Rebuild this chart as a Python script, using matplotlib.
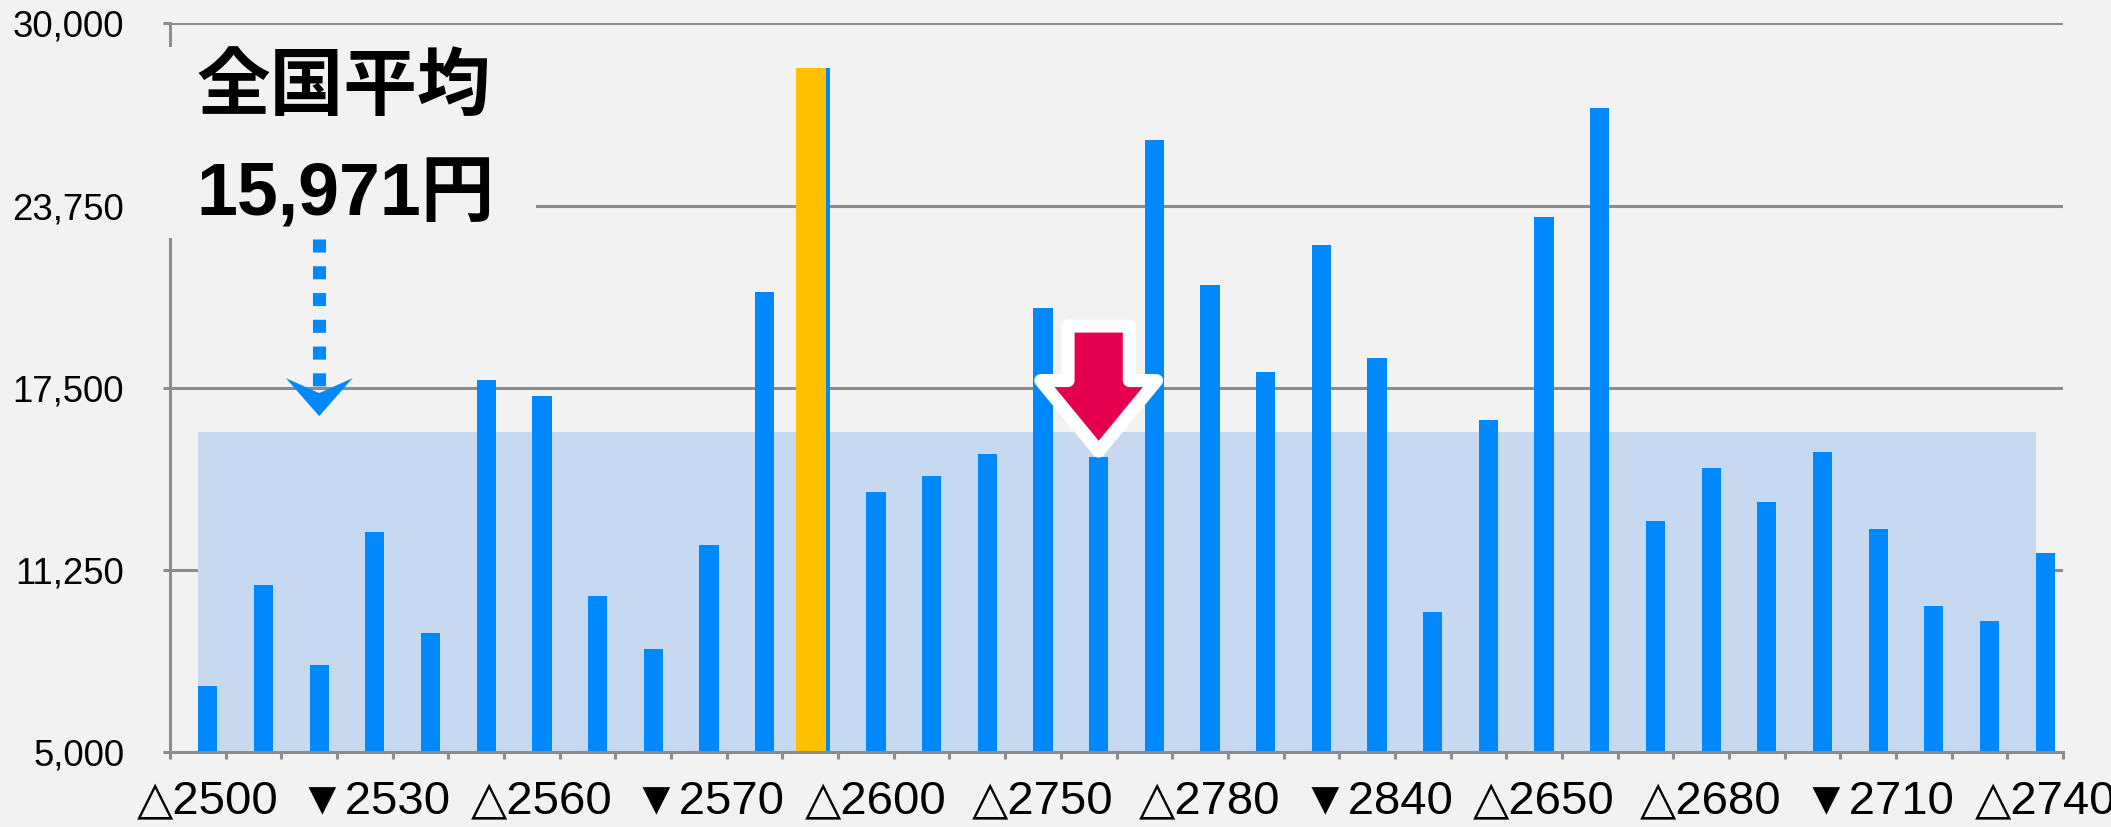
import numpy as np
import matplotlib
matplotlib.use('Agg')
import matplotlib.pyplot as plt
from matplotlib.patches import Polygon, Rectangle

plt.rcParams['font.family'] = ['Liberation Sans', 'DejaVu Sans']

# bar values (one per category, 34 in total)
values = [7250, 10720, 7980, 12540, 9080, 17760, 17210, 10350, 8530, 12100,
          20780, 28470, 13920, 14470, 15220, 20230, 15120, 26000, 21010, 18050,
          22400, 18520, 9820, 16390, 23370, 27100, 12920, 14750, 13570, 15290,
          12650, 10000, 9510, 11830]
# only every third category gets a label
tick_labels = ['△2500', '▼2530', '△2560', '▼2570', '△2600', '△2750',
               '△2780', '▼2840', '△2650', '△2680', '▼2710', '△2740']
highlight_idx = 11
pointer_idx = 16
avg_idx = 2
national_avg = 15971
yticks = [5000, 11250, 17500, 23750, 30000]

BG = '#f2f2f2'
BLUE = '#0088ff'
ORANGE = '#ffc000'
BAND = '#c6d9f0'
GRID = '#8c8c8c'
RED = '#e5004f'

W, H, DPI = 2111, 827, 100


def main():
    fig = plt.figure(figsize=(W / DPI, H / DPI), dpi=DPI, facecolor=BG)
    ax = fig.add_axes([170 / W, 75 / H, (2063 - 170) / W, 728.5 / H])
    ax.set_facecolor(BG)

    x = np.arange(len(values))
    pos = x + 0.68
    bw = 0.345

    ax.bar(pos, values, width=bw, color=BLUE, zorder=2.2)
    ax.bar(highlight_idx + 0.51, values[highlight_idx], width=0.545,
           color=ORANGE, zorder=2.3)

    # national average band
    ax.fill_between([pos[0] - bw / 2, pos[-1] - bw / 2], yticks[0], national_avg,
                    color=BAND, lw=0, zorder=2.1)

    ax.set_xlim(0, len(values))
    ax.set_ylim(yticks[0], yticks[-1])
    ax.set_yticks(yticks)
    ax.set_yticklabels([f'{v:,}' for v in yticks])
    ax.set_axisbelow(True)
    ax.yaxis.grid(True, color=GRID, lw=2.2)
    ax.tick_params(axis='y', direction='out', length=5, width=2.2,
                   color=GRID, labelsize=26.3, pad=28)

    ax.set_xticks(pos[::3])
    ax.set_xticklabels(tick_labels)
    ax.set_xticks(np.arange(0, len(values) + 1), minor=True)
    ax.tick_params(axis='x', which='major', length=0, labelsize=34, pad=20)
    ax.tick_params(axis='x', which='minor', direction='out', length=5,
                   width=2.2, color=GRID)

    for s in ['top', 'right']:
        ax.spines[s].set_visible(False)
    for s in ['left', 'bottom']:
        ax.spines[s].set_color(GRID)
        ax.spines[s].set_linewidth(2.2)

    # dotted arrow down to the average band
    xc = pos[avg_idx]
    notch = national_avg + 1345
    ax.plot([xc, xc], [22600, notch], color=BLUE, lw=9.4,
            linestyle=(0, (1, 1.05)), zorder=3, clip_on=False)
    head = [(xc - 0.6, national_avg + 1860), (xc, national_avg + 555),
            (xc + 0.6, national_avg + 1860), (xc, notch)]
    ax.add_patch(Polygon(head, closed=True, facecolor=BLUE, edgecolor='none',
                         zorder=3, clip_on=False))

    # red block arrow pointing at one bar
    xr = pos[pointer_idx]
    tip = values[pointer_idx] + 206
    wing = tip + 2421
    top = tip + 4291
    arrow = [(xr - 0.55, top), (xr + 0.55, top), (xr + 0.55, wing),
             (xr + 1.04, wing), (xr, tip), (xr - 1.04, wing), (xr - 0.55, wing)]
    ax.add_patch(Polygon(arrow, closed=True, facecolor=RED, edgecolor='white',
                         lw=9.4, joinstyle='round', zorder=5, clip_on=False))

    # text box covering the axis line
    fig.add_artist(Rectangle((140 / W, 1 - 238 / H), (536 - 140) / W, (238 - 47) / H,
                             transform=fig.transFigure, facecolor=BG,
                             edgecolor='none', zorder=5))
    fig.text(196 / W, 1 - 87.5 / H, '全国平均', fontsize=53, fontweight='bold',
             family=['Noto Sans CJK JP'], va='center', ha='left', zorder=6)
    fig.text(196 / W, 1 - 196 / H, f'{national_avg:,}円', fontsize=53,
             fontweight='bold', family=['Liberation Sans', 'Noto Sans CJK JP'],
             va='center', ha='left', zorder=6)

    fig.savefig('out.png', dpi=DPI, facecolor=BG)


if __name__ == '__main__':
    main()
